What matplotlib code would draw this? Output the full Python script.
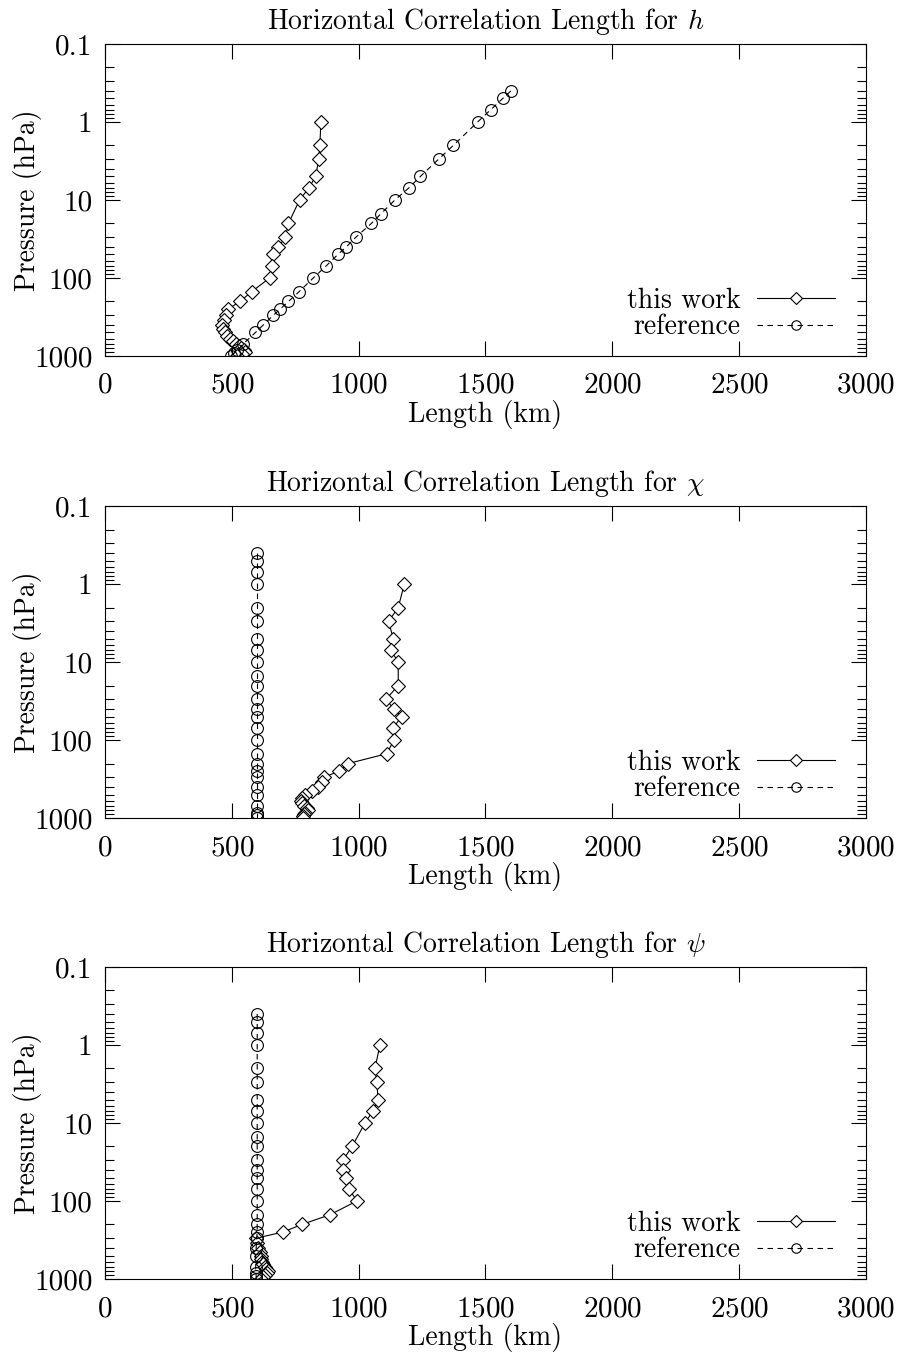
import numpy as np
import matplotlib
matplotlib.use("Agg")
import matplotlib.pyplot as plt
from matplotlib.ticker import FixedLocator, FixedFormatter, LogLocator, NullFormatter

plt.rcParams["font.family"] = "serif"
plt.rcParams["font.serif"] = ["cmr10", "DejaVu Serif"]
plt.rcParams["mathtext.fontset"] = "cm"
plt.rcParams["axes.formatter.use_mathtext"] = True

# pressure levels (hPa)
lev_work = [1, 2, 3, 5, 7, 10, 20, 30, 40, 50, 70, 100, 150, 200, 250, 300,
            350, 400, 450, 500, 550, 600, 650, 700, 750, 800, 850, 900, 950, 1000]
lev_ref = [0.4, 0.5, 0.7, 1, 2, 3, 5, 7, 10, 15, 20, 30, 40, 50, 70, 100,
           150, 200, 250, 300, 400, 500, 700, 850, 925, 1000]

# correlation length (km), this work
h_work = [851, 847, 843, 830, 804, 767, 723, 711, 683, 664, 657, 649, 578, 532, 486, 475,
          468, 463, 465, 472, 482, 492, 503, 515, 527, 538, 548, 550, 540, 520]
chi_work = [1180, 1156, 1118, 1136, 1126, 1156, 1156, 1108, 1138, 1169, 1136, 1140, 1110, 959, 924, 863,
            855, 840, 815, 790, 778, 772, 776, 785, 795, 800, 790, 785, 782, 780]
psi_work = [1084, 1064, 1072, 1076, 1056, 1025, 974, 938, 938, 950, 962, 993, 887, 776, 702, 595,
            598, 605, 610, 613, 616, 620, 624, 630, 636, 642, 640, 632, 624, 615]

# correlation length (km), reference
h_ref = [1600, 1568, 1520, 1469, 1373, 1315, 1243, 1198, 1143, 1088, 1050, 989, 951, 918, 872, 821,
         765, 723, 691, 664, 624, 593, 545, 522, 508, 497]
chi_ref = [598, 598, 598, 598, 598, 598, 598, 598, 598, 598, 598, 598, 598, 598, 598, 598,
           598, 598, 598, 598, 598, 598, 598, 598, 598, 598]
psi_ref = [600, 600, 600, 600, 600, 600, 600, 600, 600, 600, 600, 600, 600, 600, 600, 600,
           600, 600, 600, 598, 596, 594, 594, 595, 596, 596]

titles = ["Horizontal Correlation Length for $h$",
          "Horizontal Correlation Length for $\\chi$",
          "Horizontal Correlation Length for $\\psi$"]
x_ticks = [0, 500, 1000, 1500, 2000, 2500, 3000]
y_ticks = [0.1, 1, 10, 100, 1000]
y_labels = ["0.1", "1", "10", "100", "1000"]

panels = [(h_work, h_ref), (chi_work, chi_ref), (psi_work, psi_ref)]
bottoms = [0.7369, 0.3954, 0.0547]

fig = plt.figure(figsize=(9.03, 13.53), dpi=100)
fs = 20
tfs = 21

for (work, ref), title, b in zip(panels, titles, bottoms):
    ax = fig.add_axes([0.1163, b, 0.8427, 0.2306])
    ax.plot(work, lev_work, color="black", lw=0.8, marker="D", ms=7.5,
            mfc="white", mec="black", mew=0.8, label="this work")
    ax.plot(ref, lev_ref, color="black", lw=0.8, ls=(0, (5, 4)), marker="o", ms=8.5,
            mfc="none", mec="black", mew=0.8, label="reference")
    ax.set_yscale("log")
    ax.set_xlim(0, 3000)
    ax.set_ylim(1000, 0.1)
    ax.xaxis.set_major_locator(FixedLocator(x_ticks))
    ax.yaxis.set_major_locator(FixedLocator(y_ticks))
    ax.yaxis.set_major_formatter(FixedFormatter(y_labels))
    ax.yaxis.set_minor_locator(LogLocator(base=10, subs=np.arange(2, 10), numticks=20))
    ax.yaxis.set_minor_formatter(NullFormatter())
    ax.tick_params(which="both", direction="in", top=True, right=True,
                   labelsize=tfs, width=0.8)
    ax.tick_params(which="major", length=11, pad=9)
    ax.tick_params(axis="x", which="major", pad=12)
    ax.tick_params(which="minor", length=6.5)
    for s in ax.spines.values():
        s.set_linewidth(0.8)
    ax.set_title(title, fontsize=fs, pad=11)
    ax.set_xlabel("Length (km)", fontsize=fs, labelpad=1)
    ax.set_ylabel("Pressure (hPa)", fontsize=fs, labelpad=-6)
    ax.legend(loc="lower right", bbox_to_anchor=(0.985, -0.012), frameon=False,
              markerfirst=False, fontsize=fs, handlelength=2.8, handletextpad=0.6,
              labelspacing=0.0, numpoints=1, borderpad=0.2, markerscale=0.8)

fig.savefig("out.png", dpi=100)
